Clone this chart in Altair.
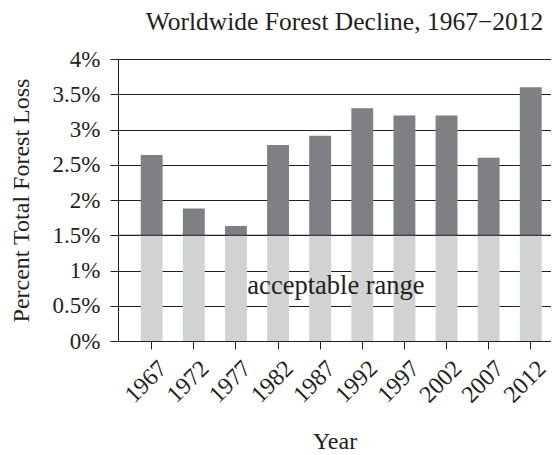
import altair as alt
import pandas as pd

years = ["1967", "1972", "1977", "1982", "1987", "1992", "1997", "2002", "2007", "2012"]
loss = [2.64, 1.88, 1.63, 2.78, 2.91, 3.30, 3.20, 3.20, 2.60, 3.60]
acceptable = 1.5
y_ticks = [0, 0.5, 1, 1.5, 2, 2.5, 3, 3.5, 4]

FONT = "Liberation Serif"
INK = "#231f20"
DARK = "#7f8084"
LIGHT = "#d1d2d4"

df = pd.DataFrame({"year": years, "loss": loss})
df["low"] = [min(v, acceptable) for v in loss]
df["base"] = acceptable

xaxis = alt.Axis(
    labelAngle=-45,
    labelFont=FONT,
    labelFontSize=24,
    labelColor=INK,
    labelAlign="right",
    labelBaseline="top",
    labelPadding=7,
    labelOffset=3,
    tickSize=8,
    tickColor=INK,
    domainColor=INK,
    titleFont=FONT,
    titleFontSize=24,
    titleFontWeight="normal",
    titleColor=INK,
    titleBaseline="alphabetic",
    titlePadding=42,
    grid=False,
)
xscale = alt.Scale(paddingInner=0.48, paddingOuter=0.38, align=0.71)

yaxis = alt.Axis(
    values=y_ticks,
    labelExpr="datum.value + '%'",
    labelOverlap=False,
    labelFont=FONT,
    labelFontSize=23,
    labelColor=INK,
    labelPadding=10,
    tickSize=8,
    tickColor=INK,
    domainColor=INK,
    gridColor=INK,
    gridWidth=1.2,
    gridOpacity=1,
    titleFont=FONT,
    titleFontSize=24,
    titleFontWeight="normal",
    titleColor=INK,
    titlePadding=19,
)
yscale = alt.Scale(domain=[0, 4], nice=False)
ytitle = "Percent Total Forest Loss"

base = alt.Chart(df)

light = base.mark_bar(color=LIGHT).encode(
    x=alt.X("year:N", sort=years, title="Year", scale=xscale, axis=xaxis),
    y=alt.Y("low:Q", scale=yscale, title=ytitle, axis=yaxis),
    y2=alt.value(282),
)

dark = base.mark_bar(color=DARK).encode(
    x=alt.X("year:N", sort=years, title="Year", scale=xscale, axis=xaxis),
    y=alt.Y("loss:Q", scale=yscale, title=ytitle, axis=yaxis),
    y2="base:Q",
)

line15 = alt.Chart(pd.DataFrame({"v": [acceptable]})).mark_rule(color=INK, strokeWidth=1.2).encode(
    y=alt.Y("v:Q", scale=yscale, title=ytitle, axis=yaxis)
)

label = alt.Chart(pd.DataFrame({"t": ["acceptable range"], "v": [0.67]})).mark_text(
    font=FONT, fontSize=26.5, color=INK, align="center", baseline="alphabetic"
).encode(
    text="t:N",
    y=alt.Y("v:Q", scale=yscale, title=ytitle, axis=yaxis),
    x=alt.value(218),
)

chart = (
    alt.layer(light, dark, line15, label)
    .properties(
        width=433,
        height=282,
        title=alt.TitleParams(
            "Worldwide Forest Decline, 1967\u22122012",
            font=FONT,
            fontSize=25.5,
            fontWeight="normal",
            color=INK,
            anchor="middle",
            frame="group",
            dx=10,
            offset=13,
        ),
        autosize=alt.AutoSizeParams(type="none"),
        padding={"left": 110, "top": 51, "right": 0, "bottom": 112},
    )
    .configure_view(stroke=None)
)

chart.save("out.html", embed_options={"renderer": "svg", "actions": False})
